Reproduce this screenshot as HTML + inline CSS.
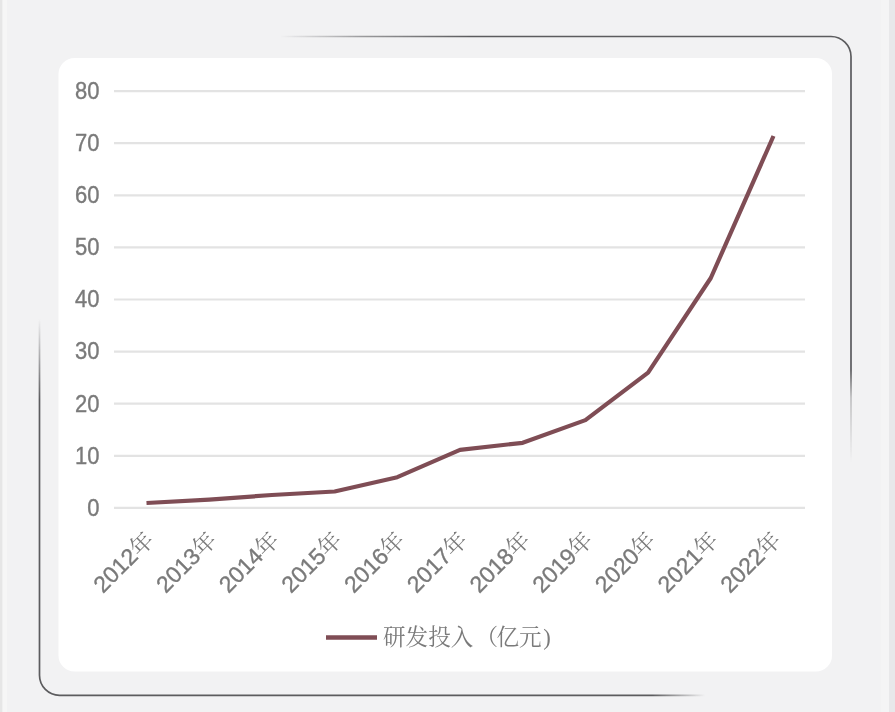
<!DOCTYPE html><html><head><meta charset="utf-8"><style>
html,body{margin:0;padding:0;width:895px;height:712px;overflow:hidden;background:#f2f2f3}
svg{display:block;filter:blur(0.6px)}
.yl{font-family:"Liberation Sans",Arial,sans-serif;font-size:22px;fill:#7a7a7a;stroke:#7a7a7a;stroke-width:0.35px;text-anchor:end}
.xl{font-family:"Liberation Sans","Noto Serif CJK SC",serif;font-size:23px;fill:#7a7a7a;stroke:#7a7a7a;stroke-width:0.35px;text-anchor:end}
.nj{font-family:"Liberation Sans","Noto Serif CJK SC",serif;font-weight:400;stroke:none}
.lg{font-family:"Liberation Serif","Noto Serif CJK SC",serif;font-size:22.6px;fill:#7a7a7a}
</style></head><body>
<svg width="895" height="712" viewBox="0 0 895 712">
<rect x="881" y="0" width="8" height="712" fill="#f4f4f5"/>
<rect x="889" y="0" width="6" height="712" fill="#e8e8ea"/>
<rect x="0" y="0" width="2.5" height="712" fill="#e6e6e6"/>
<rect x="2.5" y="0" width="4.5" height="712" fill="#f6f6f6"/>
<rect x="39.5" y="36.5" width="811.5" height="658.8" rx="20" fill="#f2f2f3"/>
<rect x="58.5" y="58" width="773.5" height="613.5" rx="16" fill="#fff"/>
<defs>
<linearGradient id="mh1" gradientUnits="userSpaceOnUse" x1="280" y1="0" x2="470" y2="0"><stop offset="0" stop-color="#000"/><stop offset="0.45" stop-color="#999"/><stop offset="1" stop-color="#fff"/></linearGradient>
<linearGradient id="mv1" gradientUnits="userSpaceOnUse" x1="0" y1="370" x2="0" y2="462"><stop offset="0" stop-color="#fff"/><stop offset="0.3" stop-color="#555"/><stop offset="1" stop-color="#000"/></linearGradient>
<linearGradient id="mv2" gradientUnits="userSpaceOnUse" x1="0" y1="319" x2="0" y2="400"><stop offset="0" stop-color="#000"/><stop offset="1" stop-color="#fff"/></linearGradient>
<linearGradient id="mh2" gradientUnits="userSpaceOnUse" x1="652" y1="0" x2="705" y2="0"><stop offset="0" stop-color="#fff"/><stop offset="1" stop-color="#000"/></linearGradient>
<mask id="m1" maskUnits="userSpaceOnUse" x="0" y="0" width="895" height="712"><rect x="0" y="0" width="895" height="200" fill="url(#mh1)"/><rect x="0" y="200" width="895" height="512" fill="url(#mv1)"/></mask>
<mask id="m2" maskUnits="userSpaceOnUse" x="0" y="0" width="895" height="712"><rect x="0" y="0" width="200" height="712" fill="url(#mv2)"/><rect x="200" y="0" width="695" height="712" fill="url(#mh2)"/></mask>
</defs>
<path d="M280 36.5 H831 A20 20 0 0 1 851 56.5 V462" stroke="#5c5c5e" stroke-width="1.7" fill="none" mask="url(#m1)"/>
<path d="M39.5 319 V675.3 A20 20 0 0 0 59.5 695.3 H705" stroke="#5c5c5e" stroke-width="1.7" fill="none" mask="url(#m2)"/>
<line x1="114" y1="507.90" x2="805" y2="507.90" stroke="#e3e3e3" stroke-width="2.2"/>
<text class="yl" transform="translate(99.5 515.70) scale(1 1.055)">0</text>
<line x1="114" y1="455.80" x2="805" y2="455.80" stroke="#e3e3e3" stroke-width="2.2"/>
<text class="yl" transform="translate(99.5 463.60) scale(1 1.055)">10</text>
<line x1="114" y1="403.70" x2="805" y2="403.70" stroke="#e3e3e3" stroke-width="2.2"/>
<text class="yl" transform="translate(99.5 411.50) scale(1 1.055)">20</text>
<line x1="114" y1="351.60" x2="805" y2="351.60" stroke="#e3e3e3" stroke-width="2.2"/>
<text class="yl" transform="translate(99.5 359.40) scale(1 1.055)">30</text>
<line x1="114" y1="299.50" x2="805" y2="299.50" stroke="#e3e3e3" stroke-width="2.2"/>
<text class="yl" transform="translate(99.5 307.30) scale(1 1.055)">40</text>
<line x1="114" y1="247.40" x2="805" y2="247.40" stroke="#e3e3e3" stroke-width="2.2"/>
<text class="yl" transform="translate(99.5 255.20) scale(1 1.055)">50</text>
<line x1="114" y1="195.30" x2="805" y2="195.30" stroke="#e3e3e3" stroke-width="2.2"/>
<text class="yl" transform="translate(99.5 203.10) scale(1 1.055)">60</text>
<line x1="114" y1="143.20" x2="805" y2="143.20" stroke="#e3e3e3" stroke-width="2.2"/>
<text class="yl" transform="translate(99.5 151.00) scale(1 1.055)">70</text>
<line x1="114" y1="91.10" x2="805" y2="91.10" stroke="#e3e3e3" stroke-width="2.2"/>
<text class="yl" transform="translate(99.5 98.90) scale(1 1.055)">80</text>
<polyline points="146.5,503.0 209.2,499.6 271.9,495.0 334.6,491.5 397.3,477.2 460.0,449.8 522.7,442.8 585.4,420.1 648.1,372.6 710.8,278.0 773.5,136.0" fill="none" stroke="#7f4d55" stroke-width="4.2" stroke-linejoin="round"/>
<text class="xl" transform="translate(150.5 536.5) rotate(-45)" x="0" y="7">2012<tspan class="nj">年</tspan></text>
<text class="xl" transform="translate(213.2 536.5) rotate(-45)" x="0" y="7">2013<tspan class="nj">年</tspan></text>
<text class="xl" transform="translate(275.9 536.5) rotate(-45)" x="0" y="7">2014<tspan class="nj">年</tspan></text>
<text class="xl" transform="translate(338.6 536.5) rotate(-45)" x="0" y="7">2015<tspan class="nj">年</tspan></text>
<text class="xl" transform="translate(401.3 536.5) rotate(-45)" x="0" y="7">2016<tspan class="nj">年</tspan></text>
<text class="xl" transform="translate(464.0 536.5) rotate(-45)" x="0" y="7">2017<tspan class="nj">年</tspan></text>
<text class="xl" transform="translate(526.7 536.5) rotate(-45)" x="0" y="7">2018<tspan class="nj">年</tspan></text>
<text class="xl" transform="translate(589.4 536.5) rotate(-45)" x="0" y="7">2019<tspan class="nj">年</tspan></text>
<text class="xl" transform="translate(652.1 536.5) rotate(-45)" x="0" y="7">2020<tspan class="nj">年</tspan></text>
<text class="xl" transform="translate(714.8 536.5) rotate(-45)" x="0" y="7">2021<tspan class="nj">年</tspan></text>
<text class="xl" transform="translate(777.5 536.5) rotate(-45)" x="0" y="7">2022<tspan class="nj">年</tspan></text>
<line x1="326" y1="637.6" x2="377" y2="637.6" stroke="#7f4d55" stroke-width="4.5"/>
<text class="lg" x="383" y="645">研发投入<tspan dx="2">（</tspan><tspan dx="-1.5">亿元</tspan><tspan dx="1.5">)</tspan></text>
</svg></body></html>
